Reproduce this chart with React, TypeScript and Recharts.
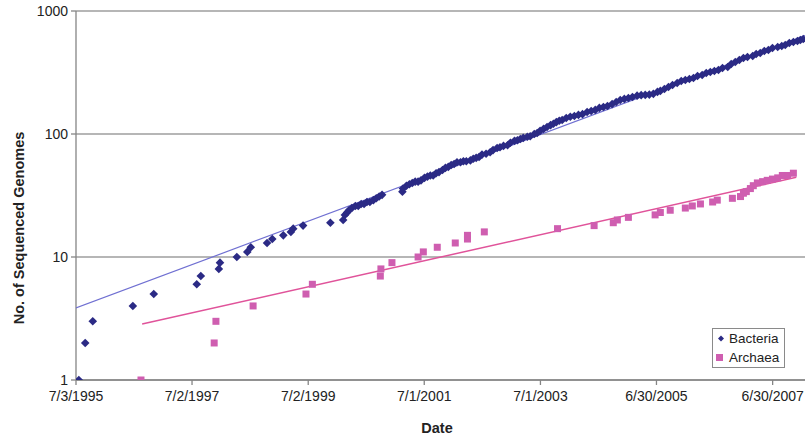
import React from 'react'
import { ScatterChart, Scatter, XAxis, YAxis, CartesianGrid, Label } from 'recharts'

// x = decimal year, y = number of sequenced genomes
const bacteria: [number, number][] = [
  [1995.55, 1], [1995.66, 2], [1995.79, 3], [1996.48, 4], [1996.84, 5], [1997.58, 6], [1997.65, 7],
  [1997.96, 8], [1997.98, 9], [1998.27, 10], [1998.45, 11], [1998.51, 12], [1998.79, 13], [1998.88, 14],
  [1999.07, 15], [1999.2, 16], [1999.24, 17], [1999.41, 18], [1999.88, 19],
  [2000.1, 20], [2000.13, 22], [2000.17, 23], [2000.2, 24], [2000.25, 25], [2000.31, 26], [2000.36, 26],
  [2000.41, 27], [2000.46, 27], [2000.51, 28], [2000.56, 28], [2000.62, 29], [2000.67, 30], [2000.72, 31],
  [2000.77, 32],
  [2001.12, 34], [2001.13, 36], [2001.19, 38], [2001.24, 39], [2001.29, 40], [2001.34, 41], [2001.39, 41],
  [2001.44, 42], [2001.5, 44], [2001.55, 45], [2001.6, 46], [2001.65, 46], [2001.7, 48], [2001.75, 49],
  [2001.81, 51], [2001.86, 53], [2001.91, 54], [2001.96, 56], [2002.01, 57], [2002.06, 59], [2002.12, 59],
  [2002.17, 60], [2002.22, 60], [2002.29, 61], [2002.34, 63], [2002.39, 64], [2002.44, 65], [2002.49, 68],
  [2002.56, 69], [2002.63, 71], [2002.68, 74], [2002.75, 77], [2002.8, 78], [2002.86, 80], [2002.93, 81],
  [2002.98, 85], [2003.05, 88], [2003.1, 89], [2003.15, 91], [2003.2, 93], [2003.27, 95], [2003.32, 96],
  [2003.39, 100], [2003.44, 102], [2003.49, 106], [2003.55, 110], [2003.61, 114], [2003.67, 118],
  [2003.72, 121], [2003.77, 125], [2003.82, 128], [2003.87, 130], [2003.94, 135], [2004.01, 138],
  [2004.08, 140], [2004.15, 143], [2004.22, 145], [2004.3, 151], [2004.37, 154], [2004.44, 157],
  [2004.51, 163], [2004.58, 166], [2004.65, 169], [2004.73, 175], [2004.8, 182], [2004.87, 189],
  [2004.94, 193], [2005.01, 196], [2005.08, 200], [2005.16, 205], [2005.23, 207], [2005.3, 208],
  [2005.37, 209], [2005.44, 212], [2005.51, 220], [2005.56, 224], [2005.63, 232], [2005.7, 241],
  [2005.77, 250], [2005.85, 260], [2005.92, 270], [2005.99, 275], [2006.06, 280], [2006.13, 285],
  [2006.2, 296], [2006.28, 302], [2006.35, 313], [2006.42, 319], [2006.49, 325], [2006.56, 331],
  [2006.63, 344], [2006.72, 351], [2006.78, 371], [2006.85, 385], [2006.92, 400], [2006.99, 415],
  [2007.06, 423], [2007.15, 431], [2007.21, 447], [2007.28, 456], [2007.35, 473], [2007.42, 482],
  [2007.49, 500], [2007.58, 510], [2007.65, 519], [2007.71, 529], [2007.78, 549], [2007.85, 560],
  [2007.92, 570], [2007.97, 581], [2008.02, 592],
]

const archaea: [number, number][] = [
  [1996.62, 1], [1997.88, 2], [1997.91, 3], [1998.55, 4], [1999.46, 5], [1999.57, 6], [2000.74, 7],
  [2000.75, 8], [2000.94, 9], [2001.39, 10], [2001.48, 11], [2001.72, 12], [2002.03, 13], [2002.24, 14],
  [2002.24, 15], [2002.53, 16], [2003.79, 17], [2004.42, 18], [2004.75, 19], [2004.82, 20], [2005.01, 21],
  [2005.47, 22], [2005.56, 23], [2005.73, 24], [2005.99, 25], [2006.11, 26], [2006.25, 27], [2006.46, 28],
  [2006.54, 29], [2006.8, 30], [2006.94, 31], [2006.99, 33], [2007.04, 34], [2007.11, 36], [2007.16, 38],
  [2007.23, 40], [2007.32, 41], [2007.4, 42], [2007.49, 43], [2007.58, 44], [2007.66, 46], [2007.75, 46],
  [2007.85, 48],
]

// exponential trend lines (end points)
const bacteriaTrend: [number, number][] = [[1995.5, 3.85], [2008.05, 630]]
const archaeaTrend: [number, number][] = [[1996.64, 2.85], [2007.9, 44.5]]

const xTickLabels = ['7/3/1995', '7/2/1997', '7/2/1999', '7/1/2001', '7/1/2003', '6/30/2005', '6/30/2007']
const yTicks = [1, 10, 100, 1000]

const BACTERIA = '#2b2a85'
const ARCHAEA = '#cf5eb0'
const FONT = '"Liberation Sans", Arial, sans-serif'

const toYear = (label: string) => {
  const [m, d, y] = label.split('/').map(Number)
  const start = Date.UTC(y, 0, 1)
  return y + (Date.UTC(y, m - 1, d) - start) / (Date.UTC(y + 1, 0, 1) - start)
}
const xTicks = xTickLabels.map(toYear)
const toPoints = (rows: [number, number][]) => rows.map(([x, y]) => ({ x, y }))

const Diamond = (props: any) => {
  const { cx, cy } = props
  const r = 4.3
  return <path d={`M${cx},${cy - r}L${cx + r},${cy}L${cx},${cy + r}L${cx - r},${cy}Z`} fill={BACTERIA} />
}
const Square = (props: any) => {
  const { cx, cy } = props
  return <rect x={cx - 3.5} y={cy - 3.5} width={7} height={7} fill={ARCHAEA} />
}
const NoDot = () => <g />

const YTitle = () => (
  <text x={19} y={228} transform="rotate(-90 19 228)" textAnchor='middle' dominantBaseline='central'
    fontFamily={FONT} fontSize={14.5} fontWeight='bold' fill='#222'>
    No. of Sequenced Genomes
  </text>
)
const XTitle = () => (
  <text x={437} y={433} textAnchor='middle' fontFamily={FONT} fontSize={14.5} fontWeight='bold' fill='#222'>
    Date
  </text>
)

const LegendBox = () => (
  <div style={{
    position: 'absolute', left: 712, top: 328, width: 71, height: 38, border: '1px solid #8a8a8a',
    background: '#fff', fontFamily: FONT, fontSize: 13.5, color: '#222', lineHeight: '19px',
  }}>
    <div style={{ display: 'flex', alignItems: 'center' }}>
      <svg width={14} height={19}><path d='M8,6.5L11,9.5L8,12.5L5,9.5Z' fill={BACTERIA} /></svg>
      <span style={{ marginLeft: 2 }}>Bacteria</span>
    </div>
    <div style={{ display: 'flex', alignItems: 'center' }}>
      <svg width={14} height={19}><rect x={3} y={6} width={7} height={7} fill={ARCHAEA} /></svg>
      <span style={{ marginLeft: 2 }}>Archaea</span>
    </div>
  </div>
)

export default function App() {
  return (
    <div style={{ position: 'absolute', left: 0, top: 0, width: 805, height: 437, background: '#fff' }}>
      <ScatterChart width={805} height={437} margin={{ top: 11, right: 0, bottom: 0, left: 0 }}>
        <CartesianGrid vertical={false} stroke='#6e6e6e' strokeWidth={1.2} />
        <XAxis type='number' dataKey='x' domain={[xTicks[0], 2008.05]} ticks={xTicks} allowDataOverflow
          tickFormatter={(v: number) => xTickLabels[xTicks.indexOf(v)] ?? ''} height={57}
          tickSize={5} tickMargin={6} stroke='#858585' strokeWidth={1.3}
          tick={{ fill: '#222', fontSize: 14, fontFamily: FONT }}>
          <Label content={XTitle} />
        </XAxis>
        <YAxis type='number' dataKey='y' scale='log' domain={[1, 1000]} ticks={yTicks} allowDataOverflow
          width={76} tickSize={5} tickMargin={3} stroke='#858585' strokeWidth={1.3}
          tick={{ fill: '#222', fontSize: 14, fontFamily: FONT }}>
          <Label content={YTitle} />
        </YAxis>
        <Scatter data={toPoints(bacteriaTrend)} line={{ stroke: '#7070d2', strokeWidth: 1.2 }} shape={NoDot}
          isAnimationActive={false} />
        <Scatter data={toPoints(archaeaTrend)} line={{ stroke: '#e0539a', strokeWidth: 1.5 }} shape={NoDot}
          isAnimationActive={false} />
        <Scatter data={toPoints(bacteria)} shape={Diamond} isAnimationActive={false} />
        <Scatter data={toPoints(archaea)} shape={Square} isAnimationActive={false} />
      </ScatterChart>
      <LegendBox />
    </div>
  )
}
